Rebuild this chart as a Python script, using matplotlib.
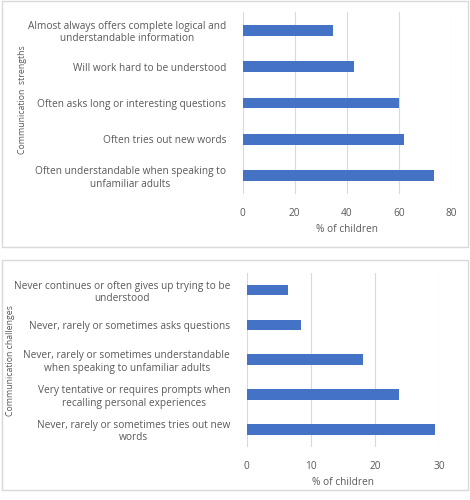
import matplotlib.pyplot as plt
from matplotlib.patches import Rectangle

strengths = [
    'Often understandable when speaking to\nunfamiliar adults',
    'Often tries out new words',
    'Often asks long or interesting questions',
    'Will work hard to be understood',
    'Almost always offers complete logical and\nunderstandable information',
]
strength_vals = [73.6, 62.1, 60.0, 42.9, 34.8]

challenges = [
    'Never, rarely or sometimes tries out new\nwords',
    'Very tentative or requires prompts when\nrecalling personal experiences',
    'Never, rarely or sometimes understandable\nwhen speaking to unfamiliar adults',
    'Never, rarely or sometimes asks questions',
    'Never continues or often gives up trying to be\nunderstood',
]
challenge_vals = [29.4, 23.7, 18.1, 8.5, 6.4]

plt.rcParams['font.family'] = ['Open Sans', 'DejaVu Sans']
txt = '#595959'
bar_color = '#4472C4'
grid_color = '#d9d9d9'
fs = 7.3

fig = plt.figure(figsize=(4.7, 5), dpi=100)
W, H = 470, 500

# panel frames
fig.patches.append(Rectangle((2 / W, 1 - 247 / H), 466 / W, 246 / H, transform=fig.transFigure,
                             fill=False, edgecolor=grid_color, linewidth=1))
fig.patches.append(Rectangle((2 / W, 1 - 490 / H), 466 / W, 230 / H, transform=fig.transFigure,
                             fill=False, edgecolor=grid_color, linewidth=1))


def panel(rect, labels, vals, xmax, step, ytitle, ytitle_xy):
    ax = fig.add_axes(rect)
    y = range(len(labels))
    ax.barh(y, vals, height=0.3, color=bar_color, zorder=3)
    ax.set_xlim(0, xmax)
    ax.set_ylim(-0.5, len(labels) - 0.5)
    ax.set_xticks(range(0, xmax + 1, step))
    ax.set_yticks(list(y))
    ax.set_yticklabels(labels, multialignment='center')
    ax.grid(axis='x', color=grid_color, linewidth=0.8, zorder=0)
    for s in ax.spines.values():
        s.set_visible(False)
    ax.tick_params(length=0, labelsize=fs, colors=txt)
    ax.tick_params(axis='y', pad=12)
    ax.tick_params(axis='x', pad=10)
    ax.set_xlabel('% of children', fontsize=fs, color=txt, labelpad=4)
    ax.set_ylabel(ytitle, fontsize=6.3, color=txt)
    ax.yaxis.set_label_coords(*ytitle_xy)
    return ax


panel([242.7 / W, 1 - 194 / H, 208.3 / W, 182 / H], strengths, strength_vals, 80, 20,
      'Communication  strengths', (-(242.7 - 27) / 208.3, (194 - 100) / 182))
panel([246.7 / W, 1 - 446.7 / H, 192.6 / W, 174 / H], challenges, challenge_vals, 30, 10,
      'Communication challenges', (-(246.7 - 15) / 192.6, (446.7 - 361) / 174))

fig.savefig('out.png', dpi=100)
